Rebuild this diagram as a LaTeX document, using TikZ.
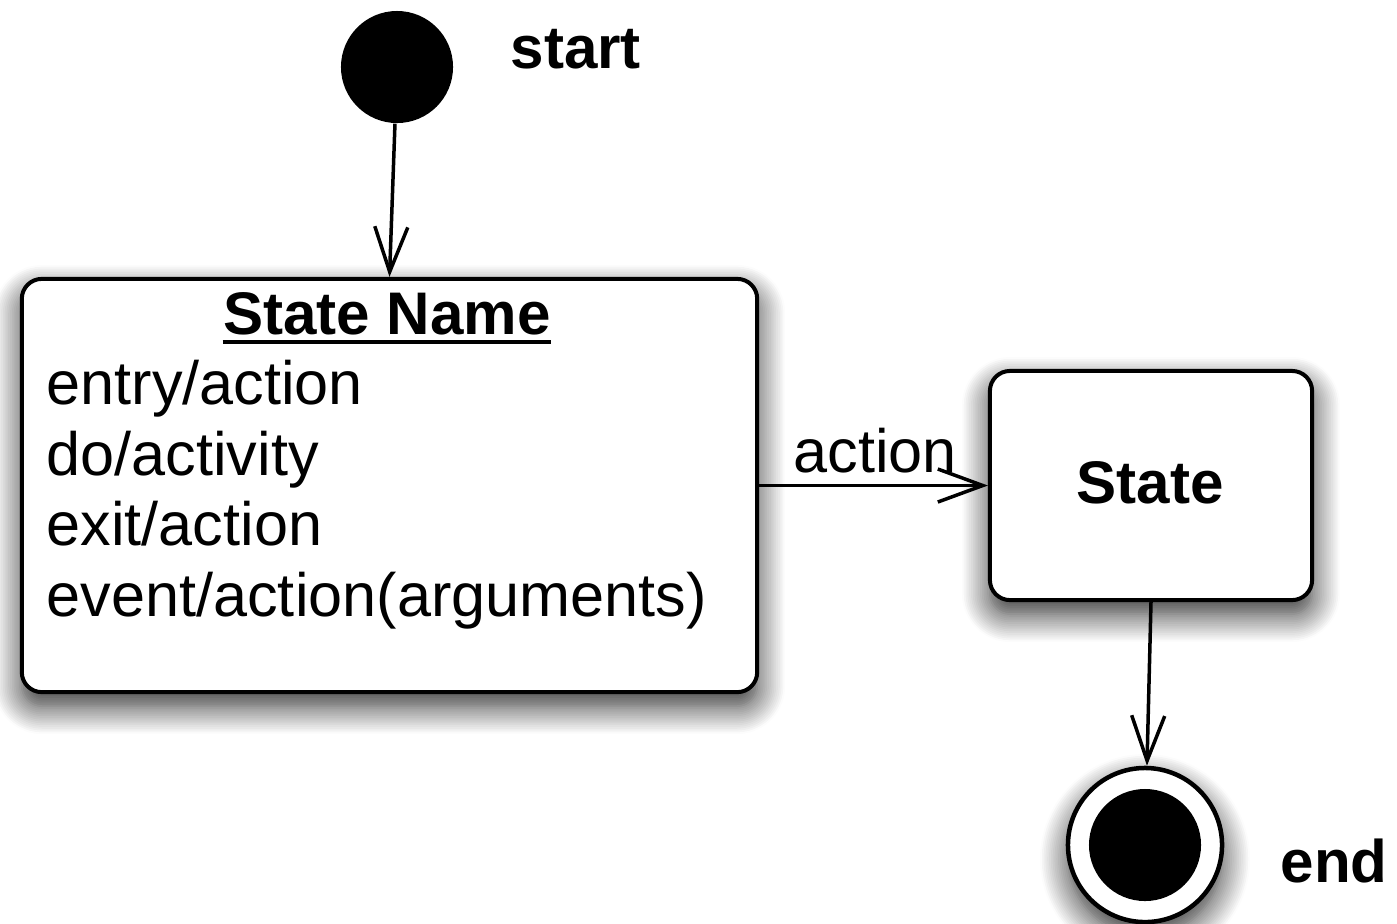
\documentclass[tikz,border=0pt]{standalone}
\usepackage{fontspec}
\setmainfont{Liberation Sans}
\usetikzlibrary{arrows.meta,shadows.blur}
\begin{document}
\begin{tikzpicture}[x=0.01cm,y=-0.01cm,
  txt/.style={inner sep=0pt, font=\fontsize{17.4pt}{20pt}\selectfont},
  boldtxt/.style={inner sep=0pt, font=\fontsize{17.1pt}{20pt}\selectfont\bfseries},
  softshadow/.style={blur shadow={shadow xshift=0cm, shadow yshift=-0.14cm,
      shadow blur radius=0.28cm, shadow blur steps=16, shadow opacity=85}},
  statebox/.style={draw, line width=0.04cm, rounded corners=0.2cm, fill=white,
      inner sep=0pt, softshadow},
  flow/.style={line width=0.035cm, -{Straight Barb[length=0.45cm,width=0.33cm]}},
]
\useasboundingbox (0,0) rectangle (1397,923);

% initial pseudo-state
\node[circle, fill=black, minimum size=1.12cm, inner sep=0pt] (s) at (397,67) {};
\node[boldtxt, anchor=base west] (slab) at (510,68) {start};

% composite state with internal activities
\node[statebox, minimum width=7.35cm, minimum height=4.13cm] (sm) at (389.5,485.5) {};
\node[boldtxt, anchor=base] (sn) at (387,334) {State Name};
\draw[line width=0.04cm] ([yshift=-0.075cm]sn.base west) -- ([yshift=-0.075cm]sn.base east);
\node[txt, anchor=base west] (l1) at (46,404) {entry/action};
\node[txt, anchor=base west] (l2) at (46,475) {do/activity};
\node[txt, anchor=base west] (l3) at (46,545) {exit/action};
\node[txt, anchor=base west] (l4) at (46,616) {event/action(arguments)};

% simple state
\node[statebox, minimum width=3.22cm, minimum height=2.29cm] (st) at (1151,485.5) {};
\node[boldtxt, anchor=base] (stl) at (1150,503) {State};

% final state
\node[circle, draw, line width=0.045cm, fill=white, minimum size=1.54cm,
      inner sep=0pt, softshadow] (e) at (1145,845) {};
\node[circle, fill=black, minimum size=1.12cm, inner sep=0pt] (ei) at (e.center) {};
\node[boldtxt, anchor=base west] (elab) at (1280,882) {end};

% transitions
\draw[flow] (s) -- (sm.north);
\draw[flow] (sm.east) -- (st.west);
\node[txt, anchor=base west] (act) at (793,472) {action};
\draw[flow] (st.south) -- (e);
\end{tikzpicture}
\end{document}
